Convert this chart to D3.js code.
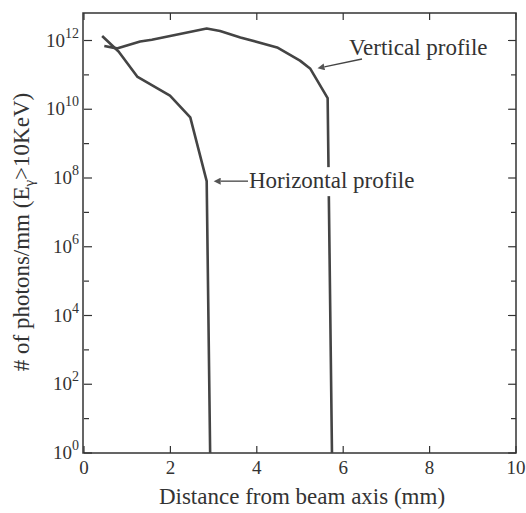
<!DOCTYPE html>
<html>
<head>
<meta charset="utf-8">
<script src="https://cdn.jsdelivr.net/npm/d3@7"></script>
<style>
  body { margin: 0; background: #fff; }
  svg { font-family: "Liberation Serif", "DejaVu Serif", serif; }
</style>
</head>
<body>
<svg id="chart" width="526" height="513"></svg>
<script>
// data (x in mm, y in photons/mm)
var horizX = [0.42, 0.8, 1.24, 1.99, 2.46, 2.84, 2.92];
var horizY = [1.35e12, 4.8e11, 8.7e10, 2.5e10, 5.8e9, 8.1e7, 1];
var vertX = [0.47, 0.76, 1.30, 1.57, 2.84, 3.15, 3.62, 4.47, 5.0, 5.24, 5.64, 5.74];
var vertY = [6.9e11, 5.9e11, 9.3e11, 1.05e12, 2.24e12, 1.9e12, 1.23e12, 6.3e11, 2.6e11, 1.5e11, 2.1e10, 1];
var xTicks = [0, 2, 4, 6, 8, 10];
var yTickExp = [0, 2, 4, 6, 8, 10, 12];

var svg = d3.select("#chart");
// plot box edges (named so they don't clash with window.top)
var pLeft = 84, pRight = 516, pTop = 13, pBottom = 453;

var x = d3.scaleLinear().domain([0, 10]).range([pLeft, pRight]);
var y = d3.scaleLog().domain([1, Math.pow(10, 12.8)]).range([pBottom, pTop]);

var ink = "#333";
var labelSize = 23;

// frame
svg.append("rect")
    .attr("x", pLeft - 1).attr("y", pTop)
    .attr("width", pRight - pLeft + 1).attr("height", pBottom - pTop)
    .attr("fill", "none").attr("stroke", ink).attr("stroke-width", 1.5);

// x ticks (bottom and top, inward)
xTicks.forEach(function (t) {
    [[pBottom, -1], [pTop, 1]].forEach(function (e) {
        svg.append("line")
            .attr("x1", x(t)).attr("x2", x(t))
            .attr("y1", e[0]).attr("y2", e[0] + e[1] * 7)
            .attr("stroke", ink).attr("stroke-width", 1.2);
    });
    svg.append("text")
        .attr("x", x(t)).attr("y", pBottom + 21)
        .attr("text-anchor", "middle")
        .attr("font-size", 19).attr("fill", ink)
        .text(t);
});

// y ticks: major at even decades, minor at odd
d3.range(0, 13).forEach(function (k) {
    var len = (k % 2 === 0) ? 8 : 5;
    var yy = y(Math.pow(10, k));
    svg.append("line")
        .attr("x1", pLeft).attr("x2", pLeft + len)
        .attr("y1", yy).attr("y2", yy)
        .attr("stroke", ink).attr("stroke-width", 1.2);
    svg.append("line")
        .attr("x1", pRight).attr("x2", pRight - len)
        .attr("y1", yy).attr("y2", yy)
        .attr("stroke", ink).attr("stroke-width", 1.2);
});

yTickExp.forEach(function (k) {
    var t = svg.append("text")
        .attr("x", pLeft - 5).attr("y", y(Math.pow(10, k)) + 6)
        .attr("text-anchor", "end")
        .attr("font-size", 19).attr("fill", ink);
    t.append("tspan").text("10");
    t.append("tspan").attr("font-size", 14).attr("dy", -9).text(k);
});

// curves
var line = d3.line()
    .x(function (d) { return x(d[0]); })
    .y(function (d) { return y(d[1]); });

var horiz = horizX.map(function (v, i) { return [v, horizY[i]]; });
var vert = vertX.map(function (v, i) { return [v, vertY[i]]; });

[horiz, vert].forEach(function (s) {
    svg.append("path")
        .attr("d", line(s))
        .attr("fill", "none")
        .attr("stroke", "#444")
        .attr("stroke-width", 2.6)
        .attr("stroke-linejoin", "round");
});

// arrow marker
svg.append("defs").append("marker")
    .attr("id", "arr")
    .attr("viewBox", "0 0 10 10")
    .attr("refX", 0).attr("refY", 5)
    .attr("markerWidth", 13).attr("markerHeight", 7)
    .attr("markerUnits", "userSpaceOnUse")
    .attr("orient", "auto-start-reverse")
    .append("path")
    .attr("d", "M0,0 L10,5 L0,10 z")
    .attr("fill", "#555");

// annotations
var vp = [vertX[9], vertY[9]];
svg.append("line")
    .attr("x1", 362).attr("y1", 59)
    .attr("x2", x(vp[0]) + 14).attr("y2", y(vp[1]) - 2)
    .attr("stroke", "#444").attr("stroke-width", 1.3)
    .attr("marker-end", "url(#arr)");
svg.append("text")
    .attr("x", 349).attr("y", 55)
    .attr("font-size", labelSize).attr("fill", ink)
    .text("Vertical profile");

var hp = [horizX[5], horizY[5]];
svg.append("line")
    .attr("x1", 248).attr("y1", y(hp[1]))
    .attr("x2", x(hp[0]) + 14).attr("y2", y(hp[1]))
    .attr("stroke", "#444").attr("stroke-width", 1.3)
    .attr("marker-end", "url(#arr)");
var hText = svg.append("text")
    .attr("x", 249).attr("y", y(hp[1]) + 7)
    .attr("font-size", labelSize).attr("fill", ink)
    .text("Horizontal profile");
// white patch behind the label so the vertical curve breaks there
var bb = hText.node().getBBox();
svg.insert("rect", function () { return hText.node(); })
    .attr("x", bb.x + 2).attr("y", bb.y - 1)
    .attr("width", bb.width).attr("height", bb.height + 4)
    .attr("fill", "#fff");

// axis titles
svg.append("text")
    .attr("x", 302).attr("y", 504)
    .attr("text-anchor", "middle")
    .attr("font-size", labelSize).attr("fill", ink)
    .text("Distance from beam axis (mm)");

var yl = svg.append("text")
    .attr("transform", "translate(29,232) rotate(-90)")
    .attr("text-anchor", "middle")
    .attr("font-size", labelSize).attr("fill", ink);
yl.append("tspan").text("# of photons/mm (E");
yl.append("tspan").attr("font-size", 15).attr("dy", 5).text("γ");
yl.append("tspan").attr("dy", -5).text(">10KeV)");
</script>
</body>
</html>
